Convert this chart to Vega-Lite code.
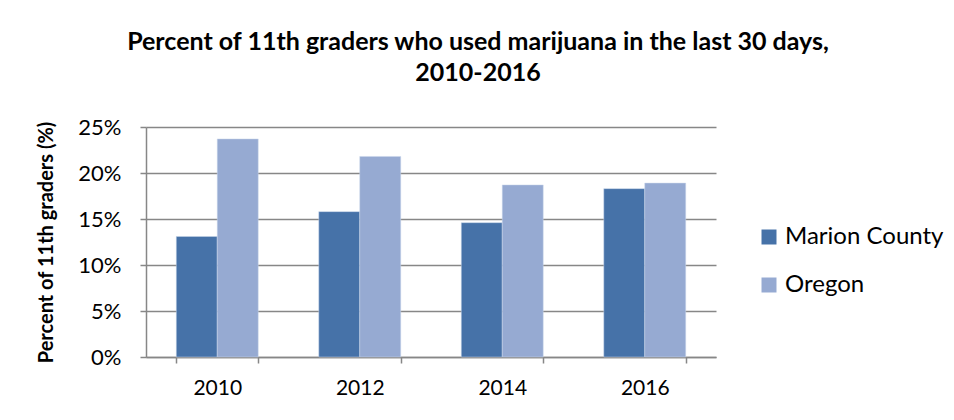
{
  "$schema": "https://vega.github.io/schema/vega-lite/v6.json",
  "width": 570,
  "height": 230,
  "autosize": {"type": "none"},
  "padding": {"left": 146, "top": 127, "right": 238, "bottom": 63},
  "background": "white",
  "title": {
    "text": ["Percent of 11th graders who used marijuana in the last 30 days,", "2010-2016"],
    "font": "Lato",
    "fontSize": 25,
    "fontWeight": "bold",
    "color": "#000000",
    "lineHeight": 31,
    "anchor": "middle",
    "dx": 47,
    "offset": 30
  },
  "data": {
    "values": [
      {"year": "2010", "area": "Marion County", "pct": 13.1},
      {"year": "2010", "area": "Oregon", "pct": 23.7},
      {"year": "2012", "area": "Marion County", "pct": 15.8},
      {"year": "2012", "area": "Oregon", "pct": 21.8},
      {"year": "2014", "area": "Marion County", "pct": 14.6},
      {"year": "2014", "area": "Oregon", "pct": 18.7},
      {"year": "2016", "area": "Marion County", "pct": 18.3},
      {"year": "2016", "area": "Oregon", "pct": 18.9}
    ]
  },
  "mark": {"type": "bar", "stroke": "#c9d6ea", "strokeWidth": 0.5},
  "encoding": {
    "x": {
      "field": "year",
      "type": "nominal",
      "scale": {"paddingInner": 0.425, "paddingOuter": 0.2125},
      "axis": {
        "title": null,
        "labelAngle": 0,
        "labelFont": "Lato",
        "labelFontSize": 21,
        "labelColor": "#000000",
        "labelPadding": 14,
        "domainColor": "#878787",
        "domainWidth": 1.5,
        "tickColor": "#878787",
        "tickWidth": 1.5,
        "tickSize": 6,
        "tickBand": "extent",
        "grid": false
      }
    },
    "xOffset": {"field": "area", "type": "nominal"},
    "y": {
      "field": "pct",
      "type": "quantitative",
      "scale": {"domain": [0, 25]},
      "axis": {
        "values": [0, 5, 10, 15, 20, 25],
        "labelExpr": "datum.value + '%'",
        "title": "Percent of 11th graders (%)",
        "titleFont": "Lato",
        "titleFontSize": 20,
        "titleFontWeight": "bold",
        "titleColor": "#000000",
        "titlePadding": 21,
        "labelFont": "Lato",
        "labelFontSize": 22,
        "labelColor": "#000000",
        "labelPadding": 19,
        "domainColor": "#878787",
        "domainWidth": 1.5,
        "tickColor": "#878787",
        "tickWidth": 1.5,
        "tickSize": 6,
        "grid": true,
        "gridColor": "#878787",
        "gridWidth": 1.5
      }
    },
    "color": {
      "field": "area",
      "type": "nominal",
      "scale": {"domain": ["Marion County", "Oregon"], "range": ["#4672A8", "#96AAD2"]},
      "legend": {
        "title": null,
        "orient": "none",
        "legendX": 611,
        "legendY": 98,
        "symbolType": "square",
        "symbolSize": 225,
        "symbolStrokeWidth": 0,
        "labelFont": "Lato",
        "labelFontSize": 24,
        "labelColor": "#000000",
        "labelOffset": 4,
        "rowPadding": 24,
        "labelLimit": 300
      }
    }
  },
  "config": {"view": {"stroke": null}}
}
